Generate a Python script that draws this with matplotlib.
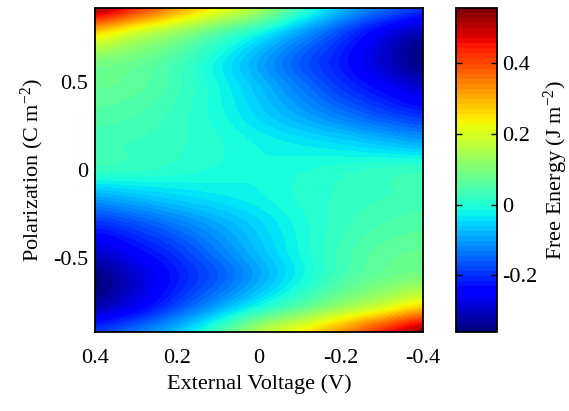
import matplotlib
matplotlib.use('Agg')
import matplotlib.pyplot as plt
import numpy as np

plt.rcParams['font.family'] = ['Liberation Serif', 'DejaVu Serif']
plt.rcParams['mathtext.fontset'] = 'custom'
plt.rcParams['mathtext.rm'] = 'Liberation Serif'
plt.rcParams['mathtext.default'] = 'regular'
plt.rcParams['axes.unicode_minus'] = False

# grid: columns = voltage, rows = polarization (top to bottom)
voltage = [0.4, 0.3, 0.2, 0.1, 0.0, -0.1, -0.2, -0.3, -0.4]
polarization = [0.92, 0.767, 0.613, 0.46, 0.307, 0.153, 0.0,
                -0.153, -0.307, -0.46, -0.613, -0.767, -0.92]
free_energy = [
    [0.53, 0.43, 0.32, 0.23, 0.15, 0.03, -0.07, -0.14, -0.19],
    [0.25, 0.18, 0.12, 0.05, -0.02, -0.10, -0.18, -0.26, -0.32],
    [0.10, 0.08, 0.04, -0.02, -0.09, -0.16, -0.22, -0.29, -0.35],
    [0.07, 0.06, 0.03, -0.015, -0.07, -0.13, -0.19, -0.24, -0.29],
    [0.05, 0.04, 0.02, -0.01, -0.05, -0.09, -0.13, -0.17, -0.20],
    [0.03, 0.025, 0.015, 0.00, -0.02, -0.035, -0.05, -0.07, -0.09],
    [0.02, 0.015, 0.005, -0.005, -0.015, -0.005, 0.005, 0.015, 0.02],
    [-0.09, -0.07, -0.05, -0.035, -0.02, 0.00, 0.015, 0.025, 0.03],
    [-0.20, -0.17, -0.13, -0.09, -0.05, -0.01, 0.02, 0.04, 0.05],
    [-0.29, -0.24, -0.19, -0.13, -0.07, -0.015, 0.03, 0.06, 0.07],
    [-0.35, -0.29, -0.22, -0.16, -0.09, -0.02, 0.04, 0.08, 0.10],
    [-0.32, -0.26, -0.18, -0.10, -0.02, 0.05, 0.12, 0.18, 0.25],
    [-0.19, -0.14, -0.07, 0.03, 0.15, 0.23, 0.32, 0.43, 0.53],
]
e_min, e_max = -0.36, 0.555

xticks = [0.4, 0.2, 0, -0.2, -0.4]
xticklabels = ['0.4', '0.2', '0', '-0.2', '-0.4']
yticks = [-0.5, 0, 0.5]
yticklabels = ['-0.5', '0', '0.5']
cticks = [-0.2, 0, 0.2, 0.4]
cticklabels = ['-0.2', '0', '0.2', '0.4']

fig = plt.figure(figsize=(5.69, 4.11), dpi=100)
ax = fig.add_axes([0.167, 0.192, 0.576, 0.789])
cax = fig.add_axes([0.801, 0.192, 0.072, 0.789])

# half-cell padding so the grid points sit at pixel centres
dv = abs(voltage[1] - voltage[0])
dp = abs(polarization[0] - polarization[-1]) / (len(polarization) - 1)
im = ax.imshow(np.array(free_energy), origin='upper', aspect='auto',
               extent=[voltage[0] + dv / 2, voltage[-1] - dv / 2,
                       polarization[-1] - dp / 2, polarization[0] + dp / 2],
               interpolation='catrom', cmap=plt.get_cmap('jet', 64),
               vmin=e_min, vmax=e_max)
ax.set_xlim(0.4, -0.4)
ax.set_ylim(polarization[-1], polarization[0])

ax.set_xticks(xticks)
ax.set_xticklabels(xticklabels)
ax.set_yticks(yticks)
ax.set_yticklabels(yticklabels)
ax.tick_params(length=0, labelsize=16)
ax.tick_params(axis='x', pad=12)
ax.tick_params(axis='y', pad=5)
for s in ax.spines.values():
    s.set_linewidth(1.3)
ax.set_xlabel('External Voltage (V)', fontsize=16, labelpad=5)
ax.set_ylabel('Polarization (C m$^{-2}$)', fontsize=16, labelpad=5)

cb = fig.colorbar(im, cax=cax)
cb.set_ticks(cticks)
cb.set_ticklabels(cticklabels)
cax.tick_params(direction='in', left=True, right=True, length=4,
                width=1, labelsize=16, pad=4)
cb.outline.set_linewidth(1.3)
cb.set_label('Free Energy (J m$^{-2}$)', fontsize=16, labelpad=3)

fig.savefig('out.png', dpi=100)
